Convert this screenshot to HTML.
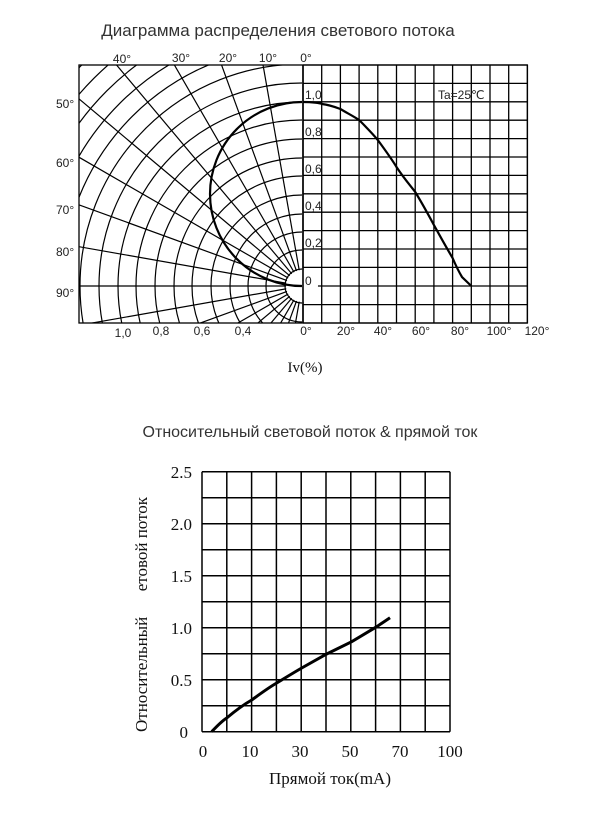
<!DOCTYPE html>
<html><head><meta charset="utf-8"><style>
html,body{margin:0;padding:0;background:#fff;overflow:hidden;width:600px;height:816px;}
svg{display:block;}
</style></head><body>
<svg width="600" height="816" viewBox="0 0 600 816" xmlns="http://www.w3.org/2000/svg">
<defs>
<clipPath id="lc"><rect x="79" y="65" width="223" height="258"/></clipPath>
</defs>
<text x="278" y="36" font-family="Liberation Sans, DejaVu Sans, sans-serif" font-size="17" fill="#333" text-anchor="middle">Диаграмма распределения светового потока</text>
<g stroke="#000" stroke-width="1.3" fill="none">
<path d="M303 65V323M321.7 65V323M340.4 65V323M359.1 65V323M377.8 65V323M396.5 65V323M415.2 65V323M433.9 65V323M452.6 65V323M471.3 65V323M490 65V323M508.7 65V323M527.4 65V323"/>
<path d="M303 65H527.4M303 83.4H527.4M303 101.8H527.4M303 120.2H527.4M303 138.6H527.4M303 157H527.4M303 175.4H527.4M303 193.8H527.4M303 212.2H527.4M303 230.6H527.4M303 249H527.4M303 267.4H527.4M303 286H527.4M303 304.6H527.4M303 323H527.4"/>
</g>
<g clip-path="url(#lc)" stroke="#000" stroke-width="1.2" fill="none">
<circle cx="302" cy="286" r="17"/>
<circle cx="302" cy="286" r="36"/>
<circle cx="302" cy="286" r="54"/>
<circle cx="302" cy="286" r="72"/>
<circle cx="302" cy="286" r="91"/>
<circle cx="302" cy="286" r="110"/>
<circle cx="302" cy="286" r="128"/>
<circle cx="302" cy="286" r="147"/>
<circle cx="302" cy="286" r="166"/>
<circle cx="302" cy="286" r="184"/>
<circle cx="302" cy="286" r="203"/>
<circle cx="302" cy="286" r="222"/>
<circle cx="302" cy="286" r="240"/>
<circle cx="302" cy="286" r="258"/>
<circle cx="302" cy="286" r="276"/>
<circle cx="302" cy="286" r="294"/>
<circle cx="302" cy="286" r="312"/>
<circle cx="302" cy="286" r="330"/>
</g>
<g clip-path="url(#lc)" stroke="#000" stroke-width="1.2">
<line x1="302" y1="286" x2="302" y2="-300" transform="rotate(-10 302 286)"/>
<line x1="302" y1="286" x2="302" y2="-300" transform="rotate(-20 302 286)"/>
<line x1="302" y1="286" x2="302" y2="-300" transform="rotate(-30 302 286)"/>
<line x1="302" y1="286" x2="302" y2="-300" transform="rotate(-40 302 286)"/>
<line x1="302" y1="286" x2="302" y2="-300" transform="rotate(-50 302 286)"/>
<line x1="302" y1="286" x2="302" y2="-300" transform="rotate(-60 302 286)"/>
<line x1="302" y1="286" x2="302" y2="-300" transform="rotate(-70 302 286)"/>
<line x1="302" y1="286" x2="302" y2="-300" transform="rotate(-80 302 286)"/>
<line x1="302" y1="286" x2="302" y2="-300" transform="rotate(-90 302 286)"/>
<line x1="302" y1="286" x2="302" y2="-300" transform="rotate(-100 302 286)"/>
<line x1="302" y1="286" x2="302" y2="-300" transform="rotate(-110 302 286)"/>
<line x1="302" y1="286" x2="302" y2="-300" transform="rotate(-120 302 286)"/>
<line x1="302" y1="286" x2="302" y2="-300" transform="rotate(-130 302 286)"/>
<line x1="302" y1="286" x2="302" y2="-300" transform="rotate(-140 302 286)"/>
<line x1="302" y1="286" x2="302" y2="-300" transform="rotate(-150 302 286)"/>
<line x1="302" y1="286" x2="302" y2="-300" transform="rotate(-160 302 286)"/>
<line x1="302" y1="286" x2="302" y2="-300" transform="rotate(-170 302 286)"/>
</g>
<circle cx="302" cy="286" r="16" fill="#fff"/>
<rect x="79" y="65" width="448.4" height="258" fill="none" stroke="#000" stroke-width="1.3"/>
<line x1="303" y1="65" x2="303" y2="323" stroke="#000" stroke-width="1.6"/>
<path d="M302 286 A92 92 0 0 1 302 102" fill="none" stroke="#000" stroke-width="2.2"/>
<path d="M303 102 C312 102 320 103 322 104 C330 105 335 107 340.4 109 C347 113 353 116 359.1 120 C366 127 372 133 377.8 140 C385 150 391 158 396.5 167 C403 177 409 184 415.2 192 C422 203 428 214 433.9 225 C440 236 446 247 452.6 258 C456 266 459 272 462 277 L471.3 286" fill="none" stroke="#000" stroke-width="2.2"/>
<g font-family="Liberation Sans, DejaVu Sans, sans-serif" font-size="12" fill="#222">
<text x="305" y="99">1,0</text>
<text x="305" y="136">0,8</text>
<text x="305" y="173">0,6</text>
<text x="305" y="210">0,4</text>
<text x="305" y="247">0,2</text>
<text x="305" y="285">0</text>
<text x="438" y="99">Ta=25℃</text>
<text x="122" y="63" text-anchor="middle">40°</text>
<text x="181" y="62" text-anchor="middle">30°</text>
<text x="228" y="62" text-anchor="middle">20°</text>
<text x="268" y="62" text-anchor="middle">10°</text>
<text x="306" y="62" text-anchor="middle">0°</text>
<text x="56" y="108">50°</text>
<text x="56" y="167">60°</text>
<text x="56" y="214">70°</text>
<text x="56" y="256">80°</text>
<text x="56" y="297">90°</text>
<text x="123" y="337" text-anchor="middle">1,0</text>
<text x="161" y="335" text-anchor="middle">0,8</text>
<text x="202" y="335" text-anchor="middle">0,6</text>
<text x="243" y="335" text-anchor="middle">0,4</text>
<text x="306" y="335" text-anchor="middle">0°</text>
<text x="346" y="335" text-anchor="middle">20°</text>
<text x="383" y="335" text-anchor="middle">40°</text>
<text x="421" y="335" text-anchor="middle">60°</text>
<text x="460" y="335" text-anchor="middle">80°</text>
<text x="499" y="335" text-anchor="middle">100°</text>
<text x="537" y="335" text-anchor="middle">120°</text>
</g>
<text x="305" y="372" font-family="Liberation Serif, serif" font-size="15" fill="#111" text-anchor="middle">Iv(%)</text>

<text x="310" y="437" font-family="Liberation Sans, DejaVu Sans, sans-serif" font-size="16" fill="#333" text-anchor="middle">Относительный световой поток &amp; прямой ток</text>
<g stroke="#000" stroke-width="1.5" fill="none">
<path d="M202 471.7V731.7M226.8 471.7V731.7M251.6 471.7V731.7M276.4 471.7V731.7M301.2 471.7V731.7M326 471.7V731.7M350.8 471.7V731.7M375.6 471.7V731.7M400.4 471.7V731.7M425.2 471.7V731.7M450 471.7V731.7"/>
<path d="M202 471.7H450M202 497.7H450M202 523.7H450M202 549.7H450M202 575.7H450M202 601.7H450M202 627.7H450M202 653.7H450M202 679.7H450M202 705.7H450M202 731.7H450"/>
</g>
<path d="M211.7 731.7 C218 725 222 721 226.7 718 C235 711 243 705 251.7 700 C260 694 268 688 276.7 683 C285 678 293 673 301.7 668 L326.7 654 L351.7 641.7 L376.7 626.7 L390 617.7" fill="none" stroke="#000" stroke-width="3"/>
<g font-family="Liberation Serif, serif" font-size="17" fill="#111">
<text x="192" y="478" text-anchor="end">2.5</text>
<text x="192" y="530" text-anchor="end">2.0</text>
<text x="192" y="582" text-anchor="end">1.5</text>
<text x="192" y="634" text-anchor="end">1.0</text>
<text x="192" y="686" text-anchor="end">0.5</text>
<text x="188" y="738" text-anchor="end">0</text>
<text x="203" y="757" text-anchor="middle">0</text>
<text x="250" y="757" text-anchor="middle">10</text>
<text x="300" y="757" text-anchor="middle">30</text>
<text x="350" y="757" text-anchor="middle">50</text>
<text x="400" y="757" text-anchor="middle">70</text>
<text x="450" y="757" text-anchor="middle">100</text>
<text x="330" y="784" text-anchor="middle">Прямой ток(mA)</text>
<text transform="translate(147 732) rotate(-90)" xml:space="preserve">Относительный      етовой поток</text>
</g>
</svg>
</body></html>
